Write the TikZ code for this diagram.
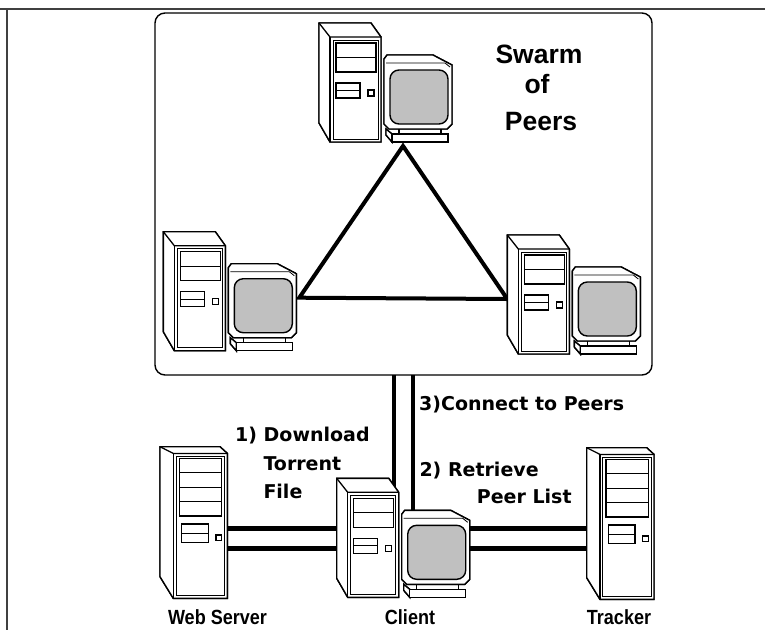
\documentclass[tikz,border=0pt]{standalone}
\usepackage{fontspec}
\setmainfont{Liberation Sans}
\newfontfamily\stepfont{DejaVu Sans}
\newfontfamily\devfont{Liberation Sans}[FakeStretch=0.88]
\begin{document}
\begin{tikzpicture}[x=1pt,y=-1pt,line join=miter]
\definecolor{screengray}{RGB}{192,192,192}
\definecolor{framegray}{RGB}{64,64,64}
\tikzset{
  body/.style={draw=black,line width=1.4pt,fill=white},
  edge/.style={draw=black,line width=1.3pt},
  fine/.style={draw=black,line width=0.8pt},
  screen/.style={draw=black,line width=1.4pt,fill=screengray,rounded corners=9pt},
  link/.style={line width=4.4pt},
  mesh/.style={line width=4pt,line join=miter},
  swarmbox/.style={draw=black,line width=1.4pt,rounded corners=10pt,inner sep=0pt,outer sep=0pt},
  steplabel/.style={anchor=base west,inner sep=0pt,font=\stepfont\bfseries\fontsize{19}{19}\selectfont},
  devlabel/.style={anchor=base,inner sep=0pt,font=\devfont\bfseries\fontsize{20.5}{20.5}\selectfont},
  titlelabel/.style={anchor=base,inner sep=0pt,font=\bfseries\fontsize{26.5}{26.5}\selectfont},
  % desktop PC: tower on the left, monitor on the right
  pics/desktop/.style={code={
    \draw[body] (0,0) -- (52,0) -- (62,14) -- (62,119) -- (11,119) -- (0,100) -- cycle;
    \draw[edge] (0,0) -- (11,14) -- (62,14);
    \draw[edge] (11,14) -- (11,119);
    \draw[fine] (14,17) rectangle (59,116);
    \draw[edge] (17,20) rectangle (57,49);
    \draw[edge] (17,34.5) -- (57,34.5);
    \draw[edge] (17,60) rectangle (41,75);
    \draw[edge] (17,67.5) -- (41,67.5);
    \draw[edge] (49,67) rectangle (55,73);
    \draw[body] (65,36) -- (68,32) -- (114,32) -- (133,42) -- (133,101) -- (128,106) -- (70,106) -- (65,101) -- cycle;
    \draw[fine] (67,40) -- (126,40) -- (131,44);
    \draw[screen] (71,47) rectangle (129,101);
    \draw[body] (67,106) -- (67,112) -- (73,119) -- (73,111) -- cycle;
    \draw[body] (73,111) rectangle (129,119);
    \draw[edge] (80,106) -- (80,111) (122,106) -- (122,111);
    \coordinate (-stand) at (84,123);
    \coordinate (-screen) at (136,66);
    \coordinate (-side) at (0,64);
    \coordinate (-west) at (0,50);
    \coordinate (-east) at (133,50);
    \coordinate (-towertop) at (57,14);
    \coordinate (-monitortop) at (76,34);
  }},
  % server tower with four bays
  pics/server/.style={code={
    \draw[body] (0,0) -- (60,0) -- (67.3,6.7) -- (67.3,151.7) -- (13.3,151.7) -- (0,130) -- cycle;
    \draw[edge] (0,0) -- (13.3,6.7) -- (67.3,6.7);
    \draw[edge] (13.3,6.7) -- (13.3,151.7);
    \draw[fine] (16,9.5) rectangle (64.5,149);
    \draw[edge] (19.3,11.7) rectangle (61.7,69.3);
    \draw[edge] (19.3,26) -- (61.7,26) (19.3,40.6) -- (61.7,40.6) (19.3,55) -- (61.7,55);
    \draw[edge] (21.7,77.3) rectangle (48.3,96);
    \draw[edge] (21.7,86.6) -- (48.3,86.6);
    \draw[edge] (56,88.3) rectangle (61.7,94);
    \coordinate (-west) at (2,80);
    \coordinate (-east) at (67.3,80);
  }},
}
\useasboundingbox (0,0) rectangle (765,630);

% outer frame
\draw[framegray,line width=2pt] (0,9) -- (765,9);
\draw[framegray,line width=2pt] (6.5,9) -- (6.5,630);

% swarm enclosure
\node[swarmbox,minimum width=497pt,minimum height=362pt] (swarm) at (403.5,194) {};

% anchors of the machines (drawn again below, on top of the links)
\path (319,23) pic (peerA) {desktop};
\path (163.3,231.7) pic (peerB) {desktop};
\path (507.3,235) pic (peerC) {desktop};
\path (336.7,478.3) pic (client) {desktop};
\path (160,446.7) pic (web) {server};
\path (586.7,447.7) pic (tracker) {server};

% peer mesh
\draw[mesh] (peerA-stand) -- (peerB-screen) -- (peerC-side) -- cycle;

% client links: peers, web server, tracker
\draw[link] (swarm.south -| client-towertop) -- (client-towertop);
\draw[link] (swarm.south -| client-monitortop) -- (client-monitortop);
\draw[link] (web-east |- client-west) -- (client-west);
\draw[link] ([yshift=-20pt]web-east |- client-west) -- ([yshift=-20pt]client-west);
\draw[link] (client-east) -- (client-east -| tracker-west);
\draw[link] ([yshift=-20pt]client-east) -- ([yshift=-20pt]client-east -| tracker-west);

% machines on top of the links
\path (319,23) pic {desktop};
\path (163.3,231.7) pic {desktop};
\path (507.3,235) pic {desktop};
\path (336.7,478.3) pic {desktop};
\path (160,446.7) pic {server};
\path (586.7,447.7) pic {server};

% titles
\node[titlelabel] (t1) at (539,63.3) {Swarm};
\node[titlelabel] (t2) at (537,93.3) {of};
\node[titlelabel] (t3) at (541,130) {Peers};

\node[steplabel] (s3) at (419,410) {3)Connect to Peers};
\node[steplabel] (s1a) at (235,441.7) {1) Download};
\node[steplabel] (s1b) at (263.3,470) {Torrent};
\node[steplabel] (s1c) at (263.3,498.3) {File};
\node[steplabel] (s2a) at (419.3,476.7) {2) Retrieve};
\node[steplabel] (s2b) at (476.7,503.3) {Peer List};

\node[devlabel] (lweb) at (217.5,624) {Web Server};
\node[devlabel] (lcli) at (410,624) {Client};
\node[devlabel] (ltrk) at (619,624) {Tracker};
\end{tikzpicture}
\end{document}
